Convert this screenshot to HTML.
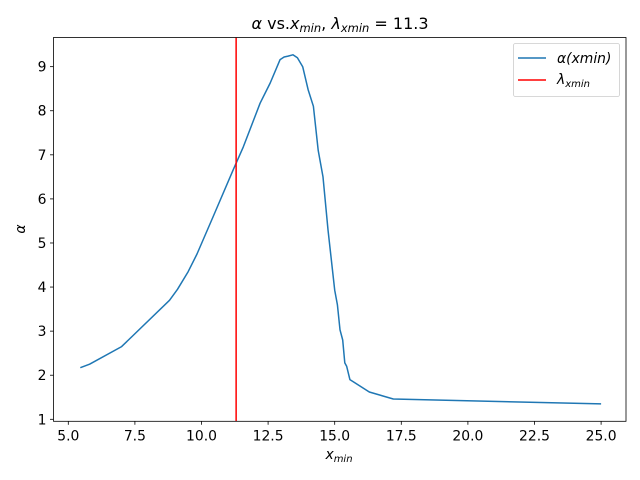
<!DOCTYPE html>
<html><head><meta charset="utf-8"><style>
body{margin:0;background:#fff;}
svg text{font-family:"DejaVu Sans","Liberation Sans",sans-serif;}
</style></head><body>
<svg width="640" height="480" viewBox="0 0 640 480" style="position:absolute;left:0;top:0">
<rect width="640" height="480" fill="#fff"/>
<g id="plot"></g>
</svg>
<script>
const xVals=[5.45,5.8,7.0,8.8,9.1,9.5,9.83,10.44,11.19,11.57,12.2,12.58,12.95,13.1,13.25,13.43,13.6,13.8,14.0,14.2,14.38,14.56,14.75,15.0,15.1,15.2,15.3,15.38,15.45,15.57,16.3,17.2,25.0];
const yVals=[2.17,2.25,2.65,3.7,3.95,4.35,4.75,5.6,6.66,7.18,8.17,8.63,9.16,9.22,9.24,9.27,9.2,9.0,8.48,8.1,7.1,6.5,5.3,3.93,3.6,3.03,2.8,2.28,2.2,1.9,1.62,1.46,1.35];
const lambdaX=[11.3];
const xTicks=[5.0,7.5,10.0,12.5,15.0,17.5,20.0,22.5,25.0];
const yTicks=[1,2,3,4,5,6,7,8,9];
const NS="http://www.w3.org/2000/svg";
const L=53.5,R=626,T=37.5,B=421.3;
function sx(v){return 68.3+(v-5)*26.64;}
function sy(v){return 419.3-(v-1)*44.08;}
const g=document.getElementById('plot');
function mk(t,a,txt){const e=document.createElementNS(NS,t);for(const k in a)e.setAttribute(k,a[k]);if(txt!==undefined)e.textContent=txt;g.appendChild(e);return e;}
let d=xVals.map((x,i)=>(i?'L':'M')+sx(x).toFixed(1)+','+sy(yVals[i]).toFixed(1)).join(' ');
const line=mk('path',{d:d,fill:'none',stroke:'#1f77b4','stroke-width':1.5,'stroke-linejoin':'round'});


lambdaX.forEach(v=>{const l=mk('line',{x1:sx(v),x2:sx(v),y1:T,y2:B,stroke:'#ff0000','stroke-width':1.5});

});
const fr=mk('rect',{x:L,y:T,width:R-L,height:B-T,fill:'none',stroke:'#000','stroke-width':0.8});


xTicks.forEach(v=>{const x=sx(v);mk('line',{x1:x,x2:x,y1:B,y2:B+3.5,stroke:'#000','stroke-width':0.8});
const t=mk('text',{x:x,y:B+19,'font-size':13.9,'text-anchor':'middle'},v.toFixed(1));

});
yTicks.forEach(v=>{const y=sy(v);mk('line',{x1:L,x2:L-3.5,y1:y,y2:y,stroke:'#000','stroke-width':0.8});
const t=mk('text',{x:L-7,y:y+5,'font-size':13.9,'text-anchor':'end'},String(v));

});
</script>
<svg width="640" height="480" style="position:absolute;left:0;top:0">
<text x="340" y="29" font-size="16" text-anchor="middle" font-family="DejaVu Sans,sans-serif"><tspan font-style="italic">α</tspan> vs.<tspan font-style="italic">x</tspan><tspan font-size="11.5" dy="3" font-style="italic">min</tspan><tspan dy="-3">, </tspan><tspan font-style="italic">λ</tspan><tspan font-size="11.5" dy="3" font-style="italic">xmin</tspan><tspan dy="-3"> = 11.3</tspan></text>
<text x="339" y="459" font-size="13.9" text-anchor="middle" font-family="DejaVu Sans,sans-serif"><tspan font-style="italic">x</tspan><tspan font-size="10" dy="3" font-style="italic">min</tspan></text>
<text x="25" y="229" font-size="13.9" text-anchor="middle" font-family="DejaVu Sans,sans-serif" font-style="italic" transform="rotate(-90 25 229)">α</text>
<g>
<rect x="513.5" y="43.5" width="106" height="53" rx="2" fill="#fff" fill-opacity="0.8" stroke="#ccc" stroke-width="0.8"/>
<line x1="518" x2="546" y1="58" y2="58" stroke="#1f77b4" stroke-width="1.5"/>
<text x="557" y="63" font-size="13.9" font-style="italic" font-family="DejaVu Sans,sans-serif">α(xmin)</text>
<line x1="518" x2="546" y1="80" y2="80" stroke="#ff0000" stroke-width="1.5"/>
<text x="557" y="84" font-size="13.9" font-style="italic" font-family="DejaVu Sans,sans-serif">λ<tspan font-size="10" dy="3">xmin</tspan></text>
</g>
</svg>
</body></html>
